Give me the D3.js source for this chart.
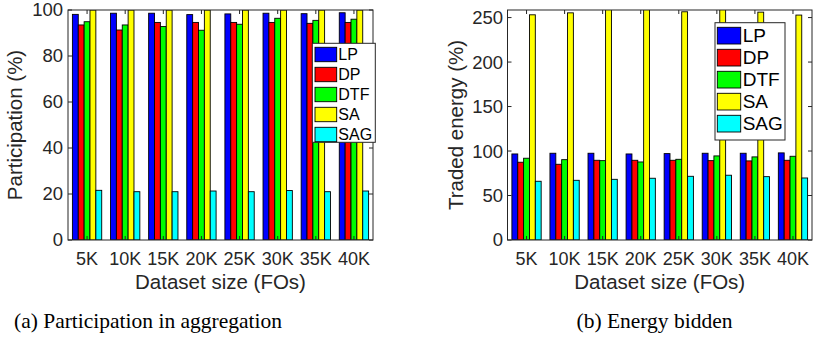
<!DOCTYPE html>
<html><head><meta charset="utf-8">
<script src="https://cdn.jsdelivr.net/npm/d3@7"></script>
<style>body{margin:0;background:#fff;}svg{display:block;}</style>
</head><body>
<svg id="c" width="813" height="340"></svg>
<script>
const categories = ["5K","10K","15K","20K","25K","30K","35K","40K"];
const seriesNames = ["LP","DP","DTF","SA","SAG"];
const seriesColors = ["#0000ff","#ff0000","#00ff00","#ffff00","#00ffff"];

// (a) Participation in aggregation (%)
const partLP  = [98.1, 98.6, 98.6, 98.0, 98.3, 98.6, 98.4, 98.8];
const partDP  = [93.5, 91.3, 94.6, 94.6, 94.6, 94.6, 94.2, 94.6];
const partDTF = [94.9, 93.5, 92.8, 91.2, 93.8, 96.4, 95.5, 96.0];
const partSA  = [100, 100, 100, 100, 100, 100, 100, 100];
const partSAG = [21.6, 21.0, 21.0, 21.3, 21.0, 21.5, 21.0, 21.3];
const partTicks = [0, 20, 40, 60, 80, 100];

// (b) Energy bidden: traded energy (%)
const enLP  = [96.7, 97.5, 97.5, 96.7, 97.1, 97.5, 97.5, 97.9];
const enDP  = [87.4, 85.1, 89.6, 89.6, 89.6, 89.2, 88.9, 89.6];
const enDTF = [91.9, 90.3, 89.2, 87.7, 90.7, 94.5, 93.4, 94.1];
const enSA  = [253.1, 255.3, 262, 260, 256.5, 259, 256.1, 252.8];
const enSAG = [66.0, 67.1, 68.2, 69.4, 71.6, 72.8, 71.2, 69.7];
const enTicks = [0, 50, 100, 150, 200, 250];

const svg = d3.select("#c");
const axisColor = "#262626";
const font = "'Liberation Sans', Arial, Helvetica, sans-serif";

function drawChart(opt) {
  const {id, left, right, top, bottom, series, yMax, ticks, ylabel, ylabelX, tickLabelRight, legend, caption, captionX, captionY, captionSize} = opt;
  const g = svg.append("g");
  const x = d3.scaleBand().domain(categories).range([left, right]).paddingInner(0.231).paddingOuter(0.1155);
  const xs = d3.scaleBand().domain(seriesNames).range([0, x.bandwidth()]).padding(0);
  const y = d3.scaleLinear().domain([0, yMax]).range([bottom, top]);

  g.append("clipPath").attr("id", "clip" + id).append("rect")
    .attr("x", left).attr("y", top).attr("width", right - left).attr("height", bottom - top);

  const bars = g.append("g").attr("clip-path", `url(#clip${id})`);
  seriesNames.forEach((s, si) => {
    bars.append("g").selectAll("rect").data(series[si]).join("rect")
      .attr("x", (d, i) => x(categories[i]) + xs(s))
      .attr("width", xs.bandwidth())
      .attr("y", d => y(d))
      .attr("height", d => y(0) - y(d))
      .attr("fill", seriesColors[si])
      .attr("stroke", "#000").attr("stroke-width", 0.9);
  });

  g.append("rect").attr("x", left).attr("y", top).attr("width", right - left).attr("height", bottom - top)
    .attr("fill", "none").attr("stroke", axisColor).attr("stroke-width", 1);

  const tl = 4;
  ticks.forEach(t => {
    const yy = y(t);
    g.append("line").attr("x1", left).attr("x2", left + tl).attr("y1", yy).attr("y2", yy).attr("stroke", axisColor);
    g.append("line").attr("x1", right).attr("x2", right - tl).attr("y1", yy).attr("y2", yy).attr("stroke", axisColor);
    g.append("text").attr("x", tickLabelRight).attr("y", yy).attr("dy", "0.35em")
      .attr("text-anchor", "end").attr("font-family", font).attr("font-size", 18.5).attr("fill", axisColor).text(t);
  });
  categories.forEach(c => {
    const xx = x(c) + x.bandwidth() / 2;
    g.append("line").attr("x1", xx).attr("x2", xx).attr("y1", top).attr("y2", top + tl).attr("stroke", axisColor);
    g.append("line").attr("x1", xx).attr("x2", xx).attr("y1", bottom).attr("y2", bottom - tl).attr("stroke", axisColor);
    g.append("text").attr("x", xx).attr("y", 265).attr("text-anchor", "middle")
      .attr("font-family", font).attr("font-size", 18).attr("fill", axisColor).text(c);
  });

  g.append("text").attr("x", (left + right) / 2).attr("y", 288.5).attr("text-anchor", "middle")
    .attr("font-family", font).attr("font-size", 20.5).attr("fill", axisColor).text("Dataset size (FOs)");
  g.append("text").attr("transform", `translate(${ylabelX},${(top + bottom) / 2}) rotate(-90)`)
    .attr("text-anchor", "middle").attr("font-family", font).attr("font-size", 20.5).attr("fill", axisColor).text(ylabel);

  const L = legend;
  g.append("rect").attr("x", L.x).attr("y", L.y).attr("width", L.w).attr("height", L.h)
    .attr("fill", "#fff").attr("stroke", axisColor).attr("stroke-width", 1);
  seriesNames.forEach((s, si) => {
    const sy = L.sy + si * L.step;
    g.append("rect").attr("x", L.sx).attr("y", sy).attr("width", L.sw).attr("height", L.sh)
      .attr("fill", seriesColors[si]).attr("stroke", "#000").attr("stroke-width", 0.9);
    g.append("text").attr("x", L.tx).attr("y", sy + L.sh / 2).attr("dy", "0.36em")
      .attr("font-family", font).attr("font-size", L.fs).attr("fill", "#000").text(s);
  });

  g.append("text").attr("x", captionX).attr("y", captionY).attr("text-anchor", "middle")
    .attr("font-family", "'Liberation Serif', 'Times New Roman', serif").attr("font-size", captionSize).attr("fill", "#000").text(caption);
}

drawChart({
  id: "a", left: 68, right: 373, top: 10, bottom: 240,
  series: [partLP, partDP, partDTF, partSA, partSAG], yMax: 100, ticks: partTicks,
  ylabel: "Participation (%)", ylabelX: 21.5, tickLabelRight: 63,
  legend: {x: 312.3, y: 43.3, w: 63, h: 99, sx: 315, sy: 47.3, sw: 21.7, sh: 14.4, step: 20, tx: 338.3, fs: 16},
  caption: "(a) Participation in aggregation", captionX: 148, captionY: 328, captionSize: 21.5
});
drawChart({
  id: "b", left: 507.5, right: 812, top: 10, bottom: 240,
  series: [enLP, enDP, enDTF, enSA, enSAG], yMax: 258.5, ticks: enTicks,
  ylabel: "Traded energy (%)", ylabelX: 463, tickLabelRight: 503,
  legend: {x: 715, y: 22.7, w: 70, h: 117.3, sx: 717.3, sy: 27.3, sw: 23.4, sh: 16.7, step: 22, tx: 742.7, fs: 19},
  caption: "(b) Energy bidden", captionX: 654.5, captionY: 328, captionSize: 21.5
});
</script>
</body></html>
